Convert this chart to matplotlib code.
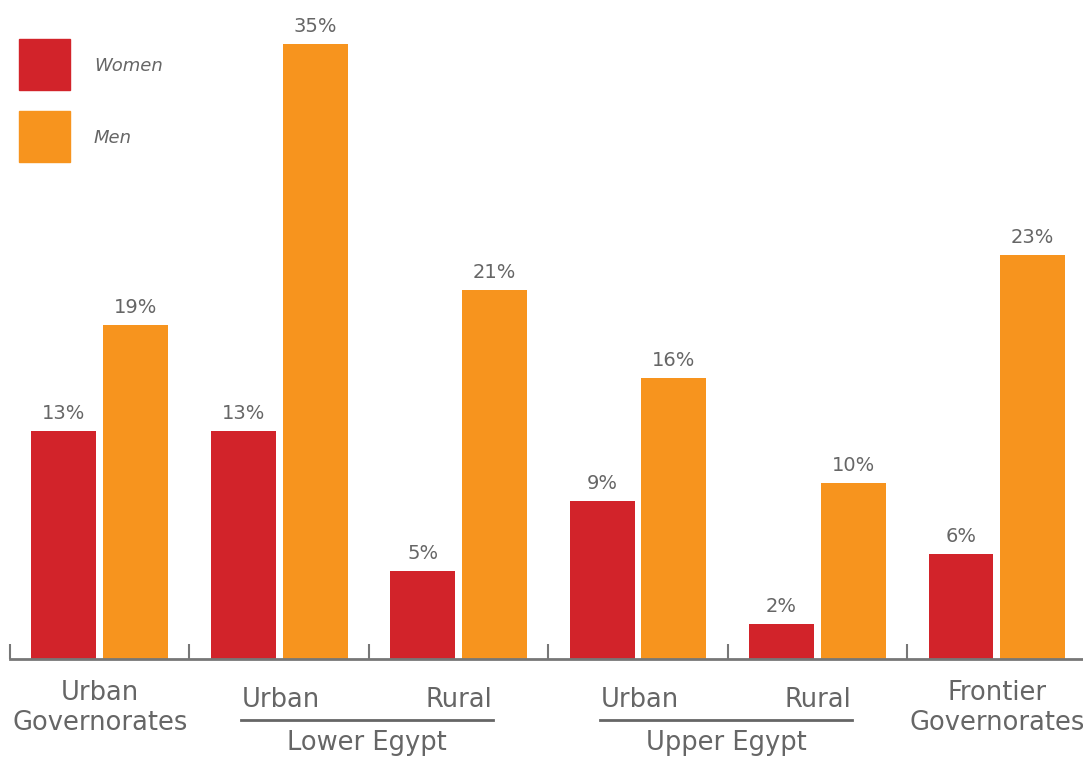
import numpy as np
import matplotlib.pyplot as plt
from matplotlib.patches import Rectangle
from matplotlib.lines import Line2D

groups = ["Urban\nGovernorates", "Urban", "Rural", "Urban", "Rural", "Frontier\nGovernorates"]
women = [13, 13, 5, 9, 2, 6]
men = [19, 35, 21, 16, 10, 23]
regions = ["Lower Egypt", "Upper Egypt"]
region_groups = [(1, 2), (3, 4)]

red = "#D2232A"
orange = "#F7941E"
grey = "#666666"

W, H = 1083, 758
fig = plt.figure(figsize=(W / 100, H / 100), dpi=100)
ax = fig.add_axes([10 / W, 1 - 659 / H, 1 - 10 / W, 659 / H])

x = np.arange(len(groups))
bw = 0.362
ax.bar(x - 0.2, women, bw, color=red)
ax.bar(x + 0.2, men, bw, color=orange)

for xi, w, m in zip(x, women, men):
    ax.text(xi - 0.2, w + 0.45, f"{w}%", ha="center", va="bottom", fontsize=14, color=grey)
    ax.text(xi + 0.2, m + 0.45, f"{m}%", ha="center", va="bottom", fontsize=14, color=grey)

ax.set_xlim(-0.5, 5.48)
ax.set_ylim(0, 37.5)
for s in ["top", "right", "left"]:
    ax.spines[s].set_visible(False)
ax.spines["bottom"].set_color("#777777")
ax.spines["bottom"].set_linewidth(2)
ax.set_yticks([])
ax.set_xticks(np.arange(-0.5, 5, 1.0))
ax.tick_params(axis="x", direction="in", length=11, width=1.5, color="#777777", labelbottom=False)


def fy(ypix):
    # figure pixel row (from top) -> axes fraction
    return (659 - ypix) / 659


tr = ax.get_xaxis_transform()
lab = dict(fontsize=18.5, color=grey, clip_on=False)
# single-group labels
for i in [0, 5]:
    ax.text(x[i], fy(708), groups[i], ha="center", va="center", linespacing=1.15, transform=tr, **lab)

# bracketed regions
for name, (a, b) in zip(regions, region_groups):
    x0, x1 = a - 0.21, b + 0.19
    ax.add_line(Line2D([x0, x1], [fy(720), fy(720)], transform=tr, color=grey, lw=2, clip_on=False))
    ax.text(x0, fy(700), groups[a], ha="left", va="center", transform=tr, **lab)
    ax.text(x1, fy(700), groups[b], ha="right", va="center", transform=tr, **lab)
    ax.text((x0 + x1) / 2, fy(743), name, ha="center", va="center", transform=tr, **lab)

# legend
for (label, col), ytop in zip([("Women", red), ("Men", orange)], [39, 111]):
    fig.add_artist(Rectangle((19 / W, 1 - (ytop + 51) / H), 51 / W, 51 / H,
                             transform=fig.transFigure, color=col))
    fig.text(94 / W, 1 - (ytop + 27) / H, label, ha="left", va="center",
             fontsize=13, style="italic", color=grey)

fig.savefig("out.png", dpi=100)
